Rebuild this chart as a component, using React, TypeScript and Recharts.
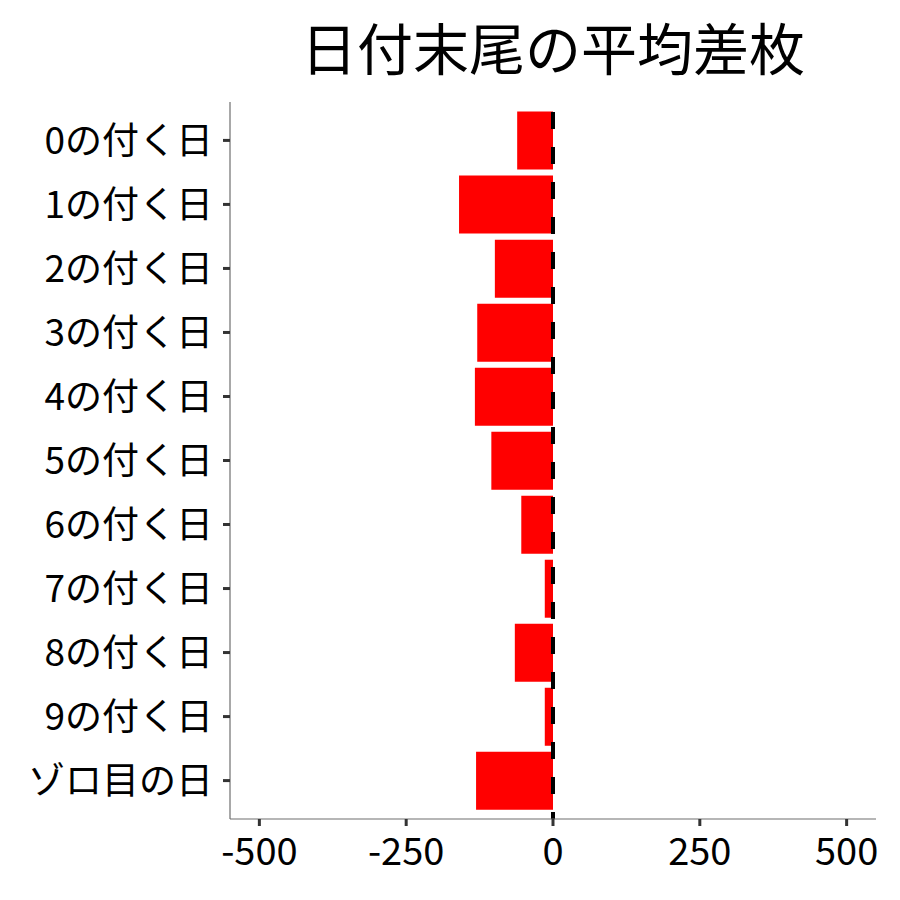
import React from "react";
import { BarChart, Bar, XAxis, YAxis, ReferenceLine } from "recharts";

const categories = [
  "0の付く日",
  "1の付く日",
  "2の付く日",
  "3の付く日",
  "4の付く日",
  "5の付く日",
  "6の付く日",
  "7の付く日",
  "8の付く日",
  "9の付く日",
  "ゾロ目の日",
];
const avgDiff = [-61, -160, -99, -129, -133, -105, -54, -14, -65, -14, -131];
const xTicks = [-500, -250, 0, 250, 500];
const title = "日付末尾の平均差枚";

const data = categories.map((label, i) => ({ label, value: avgDiff[i] }));

const FONT = '"Noto Sans CJK JP", "Noto Sans", sans-serif';

export default function App() {
  return (
    <div
      style={{
        position: "absolute",
        left: 0,
        top: 0,
        width: 900,
        height: 900,
        background: "#fff",
        fontFamily: FONT,
      }}
    >
      <div
        style={{
          position: "absolute",
          left: 230,
          width: 646,
          top: 12,
          textAlign: "center",
          fontSize: 56,
          lineHeight: "68px",
          color: "#000",
          fontFamily: FONT,
        }}
      >
        {title}
      </div>
      <BarChart
        width={900}
        height={900}
        data={data}
        layout="vertical"
        margin={{ top: 102, right: 24, bottom: 0, left: 0 }}
        barCategoryGap="5%"
      >
        <XAxis
          type="number"
          domain={[-550, 550]}
          ticks={xTicks}
          allowDataOverflow
          height={81}
          tickSize={7}
          tickMargin={12}
          axisLine={{ stroke: "#6e6e6e", strokeWidth: 1.2 }}
          tickLine={{ stroke: "#333", strokeWidth: 3 }}
          tick={{ fill: "#000", fontSize: 38, fontFamily: FONT }}
        />
        <YAxis
          type="category"
          dataKey="label"
          width={230}
          tickSize={7}
          tickMargin={10}
          padding={{ top: 6.4, bottom: 6.4 }}
          axisLine={{ stroke: "#6e6e6e", strokeWidth: 1.2 }}
          tickLine={{ stroke: "#333", strokeWidth: 3 }}
          tick={{ fill: "#000", fontSize: 37, fontFamily: FONT }}
          interval={0}
        />
        <Bar dataKey="value" fill="#ff0000" isAnimationActive={false} />
        <ReferenceLine
          x={0}
          stroke="#000"
          strokeWidth={4}
          strokeDasharray="17 18"
          strokeDashoffset={10}
        />
      </BarChart>
    </div>
  );
}
